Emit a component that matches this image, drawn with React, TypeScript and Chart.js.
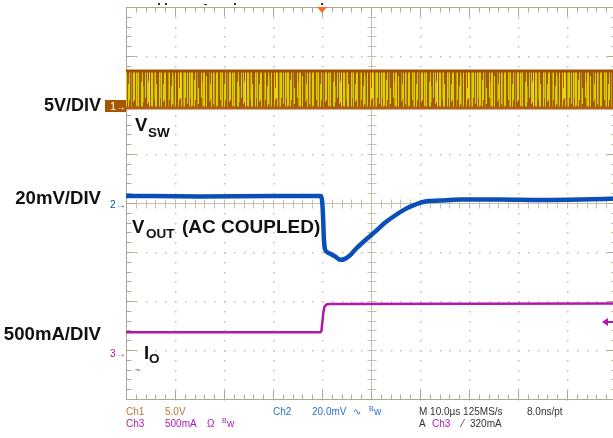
import React, { useEffect, useRef } from "react";
import { Chart, registerables } from "chart.js";

Chart.register(...registerables);

// ---- Scope settings ----
const TIME_MIN = -50; // µs (10 µs/div, 10 divisions)
const TIME_MAX = 50;
const TIME_PER_DIV = 10;
const DIV_MIN = -4;
const DIV_MAX = 4;
const TRIGGER_TIME = -10; // µs
const TRIGGER_LEVEL_MA = 320;

const CH1_V_PER_DIV = 5;
const CH1_OFFSET_DIV = 1.98;
const CH2_MV_PER_DIV = 20;
const CH2_OFFSET_DIV = -0.02;
const CH3_MA_PER_DIV = 500;
const CH3_OFFSET_DIV = -3.06;

// ---- Channel 1: V_SW (switch node, envelope of switching band) ----
const vswTime = [-50, 50];
const vswHigh = [3.57, 3.57];
const vswLow = [-0.2, -0.2];

// ---- Channel 2: V_OUT (AC coupled), mV ----
const voutTime = [-50, -35, -20, -10.3, -10.0, -9.8, -9.6, -9.4, -9.0, -8.2, -7.2, -6.3, -5.3, -4.3, -3.3, -2.0, -0.6, 0.8, 2.9, 4.9, 6.9, 9.0, 11.0, 14.1, 18.2, 26.3, 34.5, 42.7, 50];
const voutMv = [3.3, 3.1, 3.3, 3.3, 1.6, -4.5, -14.7, -18.4, -19.6, -20.4, -21.6, -22.8, -22.4, -21.0, -18.8, -16.3, -13.8, -11.4, -7.6, -4.7, -2.2, -0.3, 1.0, 1.4, 1.8, 1.8, 1.6, 1.8, 2.2];

// ---- Channel 3: I_O load current, mA ----
const ioTime = [-50, -10.3, -10.1, -9.9, -9.7, -9.5, -9.1, -8.5, 50];
const ioMa = [210, 210, 230, 330, 420, 470, 495, 500, 504];

// ---- Style ----
const GRID = "#c4c0aa";
const FRAME = "#aca892";
const CH1_COLOR = "#a65600";
const CH2_COLOR = "#0a4fb8";
const CH3_COLOR = "#b018b0";
// switching-band texture: body stripes, plus partial brown strokes from the top and bottom edges
const VSW_TEX_BODY = "YBYYBOYBBYOYYBYBBOYYBYOBYYBBYOYBYYBOBYYBYOYBBYYOBYBYYLBYYBOYYBBYOYBYYYBBOYBYYOBYBBYYLYBOYYBYBYOY";
const VSW_TEX_TOP = "YYBYLYBOYYBYYOBYYYBYLYYBOYYBYYYOBYBYYLYBYYOYYBYBYYYLBOYYYBYYBYOYYLYBYYBOYYYBYBYLYYOBYYBYYYBLYOYY";
const VSW_TEX_BOT = "BYOBBYBYOBBYYBOBYBBOYBYBOBYBBYOBYBBYOBBYBYYOBBYBOBYBBYOBYBBOYBBYBOYBBYBYOBBYBOBYYBOBBYBYOBYBBYB";
const STRIPE_COLORS: Record<string, string> = { Y: "#d8d200", B: "#a65800", O: "#c0a000", L: "#e6e030" };

const toPts = (t: number[], v: number[], perDiv: number, off: number) =>
  t.map((x, i) => ({ x, y: v[i] / perDiv + off }));

const scopeGrid = {
  id: "scopeGrid",
  beforeDatasetsDraw(chart: any) {
    const { ctx, scales } = chart;
    const xs = scales.x;
    const ys = scales.y;
    const px = (t: number) => Math.round(xs.getPixelForValue(t));
    const py = (d: number) => Math.round(ys.getPixelForValue(d));
    ctx.save();
    ctx.fillStyle = GRID;
    for (let t = TIME_MIN + TIME_PER_DIV; t < TIME_MAX; t += TIME_PER_DIV) {
      if (t === 0) continue;
      for (let d = DIV_MIN; d <= DIV_MAX + 1e-6; d += 0.2) ctx.fillRect(px(t), py(d), 1.5, 1.5);
    }
    for (let d = DIV_MIN + 1; d < DIV_MAX; d += 1) {
      if (d === 0) continue;
      for (let t = TIME_MIN; t <= TIME_MAX + 1e-6; t += TIME_PER_DIV / 5) ctx.fillRect(px(t), py(d), 1.5, 1.5);
    }
    ctx.strokeStyle = GRID;
    ctx.lineWidth = 1;
    const x0 = px(0) + 0.5;
    const y0 = py(0) + 0.5;
    const top = py(DIV_MAX) + 0.5;
    const bot = py(DIV_MIN) + 0.5;
    const left = px(TIME_MIN) + 0.5;
    const right = px(TIME_MAX) + 0.5;
    ctx.beginPath();
    ctx.moveTo(x0, top); ctx.lineTo(x0, bot);
    ctx.moveTo(left, y0); ctx.lineTo(right, y0);
    for (let d = DIV_MIN; d <= DIV_MAX + 1e-6; d += 0.2) {
      const yy = py(d) + 0.5;
      ctx.moveTo(x0 - 4, yy); ctx.lineTo(x0 + 5, yy);
    }
    for (let t = TIME_MIN; t <= TIME_MAX + 1e-6; t += TIME_PER_DIV / 5) {
      const xx = px(t) + 0.5;
      ctx.moveTo(xx, y0 - 4); ctx.lineTo(xx, y0 + 5);
    }
    ctx.stroke();
    ctx.strokeStyle = FRAME;
    ctx.beginPath();
    ctx.rect(left, top, right - left, bot - top);
    let k = 0;
    for (let t = TIME_MIN; t <= TIME_MAX + 1e-6; t += TIME_PER_DIV / 5, k++) {
      const xx = px(t) + 0.5;
      const len = k % 5 === 0 ? 9 : 5;
      ctx.moveTo(xx, top); ctx.lineTo(xx, top + len);
      ctx.moveTo(xx, bot); ctx.lineTo(xx, bot - len);
    }
    k = 0;
    for (let d = DIV_MIN; d <= DIV_MAX + 1e-6; d += 0.2, k++) {
      const yy = py(d) + 0.5;
      const len = k % 5 === 0 ? 9 : 5;
      ctx.moveTo(left, yy); ctx.lineTo(left + len, yy);
      ctx.moveTo(right, yy); ctx.lineTo(right - len, yy);
    }
    ctx.stroke();
    ctx.restore();
  },
};

const scopeLabels = {
  id: "scopeLabels",
  afterDraw(chart: any) {
    const { ctx, scales } = chart;
    const xs = scales.x;
    const ys = scales.y;
    ctx.save();
    const bold = (s: number) => `bold ${s}px "Liberation Sans", Arial, sans-serif`;
    ctx.fillStyle = "#111";
    ctx.textBaseline = "alphabetic";
    ctx.textAlign = "right";
    ctx.font = bold(18);
    ctx.fillText("5V/DIV", 101, 111);
    ctx.font = bold(18.6);
    ctx.fillText("20mV/DIV", 101, 204);
    ctx.fillText("500mA/DIV", 101, 340);
    ctx.textAlign = "left";
    ctx.font = bold(18.5);
    ctx.fillText("V", 135, 131);
    ctx.font = bold(13.5);
    ctx.fillText("SW", 148, 137);
    ctx.font = bold(18.5);
    ctx.fillText("V", 132, 233);
    ctx.font = bold(13.5);
    ctx.fillText("OUT", 146, 238);
    ctx.font = bold(19);
    ctx.fillText("(AC COUPLED)", 182, 233);
    ctx.font = bold(18.5);
    ctx.fillText("I", 144, 359);
    ctx.font = bold(13.5);
    ctx.fillText("O", 149, 363);
    ctx.font = `9px "Liberation Sans", Arial, sans-serif`;
    ctx.fillStyle = "#555";
    ctx.fillText("~", 135, 373);

    // channel markers
    const y1 = Math.round(ys.getPixelForValue(CH1_OFFSET_DIV));
    ctx.fillStyle = CH1_COLOR;
    ctx.fillRect(105, y1 - 6, 21, 12);
    ctx.fillStyle = "#fff";
    ctx.font = `11px "Liberation Sans", Arial, sans-serif`;
    ctx.fillText("1", 110, y1 + 4);
    ctx.font = `10px "Liberation Sans", Arial, sans-serif`;
    ctx.fillText("→", 116, y1 + 4);
    const y2 = Math.round(ys.getPixelForValue(CH2_OFFSET_DIV));
    ctx.fillStyle = CH2_COLOR;
    ctx.fillText("2", 110, y2 + 4);
    ctx.fillText("→", 116, y2 + 4);
    const y3 = Math.round(ys.getPixelForValue(CH3_OFFSET_DIV));
    ctx.fillStyle = CH3_COLOR;
    ctx.fillText("3", 110, y3 + 4);
    ctx.fillText("→", 116, y3 + 4);

    // trigger level arrow (right side)
    const yt = Math.round(ys.getPixelForValue(TRIGGER_LEVEL_MA / CH3_MA_PER_DIV + CH3_OFFSET_DIV));
    ctx.fillStyle = CH3_COLOR;
    ctx.fillRect(606, yt - 1, 10, 2);
    ctx.beginPath();
    ctx.moveTo(602, yt); ctx.lineTo(608, yt - 4); ctx.lineTo(608, yt + 4); ctx.closePath();
    ctx.fill();

    // trigger position marker (top)
    const xt = xs.getPixelForValue(TRIGGER_TIME);
    const topY = ys.getPixelForValue(DIV_MAX);
    ctx.fillStyle = "#ff6a1a";
    ctx.beginPath();
    ctx.moveTo(xt - 5, topY); ctx.lineTo(xt + 5, topY); ctx.lineTo(xt, topY + 6); ctx.closePath();
    ctx.fill();
    ctx.fillStyle = "#333";
    ctx.fillRect(xt - 1, topY - 4, 2, 2);
    ctx.fillRect(158, 3, 2, 2);
    ctx.fillRect(165, 3, 2, 2);
    ctx.fillRect(204, 4, 3, 1);
    ctx.fillRect(234, 3, 2, 2);

    // status readout
    const small = `10px "Liberation Sans", Arial, sans-serif`;
    ctx.font = small;
    const put = (s: string, x: number, y: number, c: string) => { ctx.fillStyle = c; ctx.fillText(s, x, y); };
    const brown = "#b97a38";
    const blue = "#2f6fd0";
    const dark = "#333";
    put("Ch1", 126, 415, brown);
    put("5.0V", 165, 415, brown);
    put("Ch2", 273, 415, blue);
    put("20.0mV", 312, 415, blue);
    put("∿", 353, 415, blue);
    put("M 10.0µs 125MS/s", 419, 415, dark);
    put("8.0ns/pt", 527, 415, dark);
    put("Ch3", 126, 427, CH3_COLOR);
    put("500mA", 165, 427, CH3_COLOR);
    put("Ω", 207, 427, CH3_COLOR);
    put("A", 419, 427, dark);
    put("Ch3", 432, 427, CH3_COLOR);
    put("⁄", 462, 427, dark);
    put("320mA", 470, 427, dark);
    ctx.font = `7px "Liberation Sans", Arial, sans-serif`;
    put("B", 369, 411, blue);
    put("B", 222, 423, CH3_COLOR);
    ctx.font = small;
    put("w", 374, 415, blue);
    put("w", 227, 427, CH3_COLOR);
    ctx.restore();
  },
};

export default function App() {
  const ref = useRef<HTMLCanvasElement>(null);
  useEffect(() => {
    const canvas = ref.current!;
    const tile = document.createElement("canvas");
    const W = VSW_TEX_BODY.length;
    tile.width = W;
    tile.height = 40;
    const tctx = tile.getContext("2d")!;
    for (let i = 0; i < W; i++) {
      tctx.fillStyle = STRIPE_COLORS[VSW_TEX_BODY[i]];
      tctx.fillRect(i, 0, 1, 40);
      if (VSW_TEX_TOP[i] === "B") {
        tctx.fillStyle = STRIPE_COLORS.B;
        tctx.fillRect(i, 0, 1, 6 + (i % 7) * 2);
      }
      if (VSW_TEX_BOT[i] === "B") {
        tctx.fillStyle = STRIPE_COLORS.B;
        const h = 4 + (i % 5) * 2;
        tctx.fillRect(i, 40 - h, 1, h);
      }
    }
    const ctx2 = canvas.getContext("2d")!;
    const pattern = ctx2.createPattern(tile, "repeat")!;
    try {
      pattern.setTransform(new DOMMatrix().translate(0, 70));
    } catch (e) {}

    const chart = new Chart(canvas, {
      type: "line",
      data: {
        datasets: [
          {
            label: "VSW low",
            data: toPts(vswTime, vswLow, CH1_V_PER_DIV, CH1_OFFSET_DIV),
            borderColor: "#b06010",
            borderWidth: 3,
            pointRadius: 0,
            fill: false,
          },
          {
            label: "VSW high",
            data: toPts(vswTime, vswHigh, CH1_V_PER_DIV, CH1_OFFSET_DIV),
            borderColor: "#a05000",
            borderWidth: 3,
            pointRadius: 0,
            fill: "-1",
            backgroundColor: pattern as any,
          },
          {
            label: "IO",
            data: toPts(ioTime, ioMa, CH3_MA_PER_DIV, CH3_OFFSET_DIV),
            borderColor: CH3_COLOR,
            borderWidth: 2.5,
            pointRadius: 0,
            tension: 0,
            fill: false,
          },
          {
            label: "VOUT",
            data: toPts(voutTime, voutMv, CH2_MV_PER_DIV, CH2_OFFSET_DIV),
            borderColor: CH2_COLOR,
            borderWidth: 4.5,
            pointRadius: 0,
            cubicInterpolationMode: "monotone",
            fill: false,
          },
        ],
      },
      options: {
        responsive: false,
        animation: false,
        devicePixelRatio: 1,
        layout: { padding: { left: 126, top: 7, right: 24, bottom: 39 } },
        plugins: { legend: { display: false }, tooltip: { enabled: false } },
        scales: {
          x: { type: "linear", min: TIME_MIN, max: TIME_MAX, display: false },
          y: { type: "linear", min: DIV_MIN, max: DIV_MAX, display: false },
        },
      },
      plugins: [scopeGrid, scopeLabels],
    });
    return () => chart.destroy();
  }, []);
  return (
    <div style={{ position: "fixed", left: 0, top: 0, width: 613, height: 438, overflow: "hidden", background: "#fff" }}>
      <canvas ref={ref} width={640} height={438} style={{ display: "block", width: 640, height: 438 }} />
    </div>
  );
}
